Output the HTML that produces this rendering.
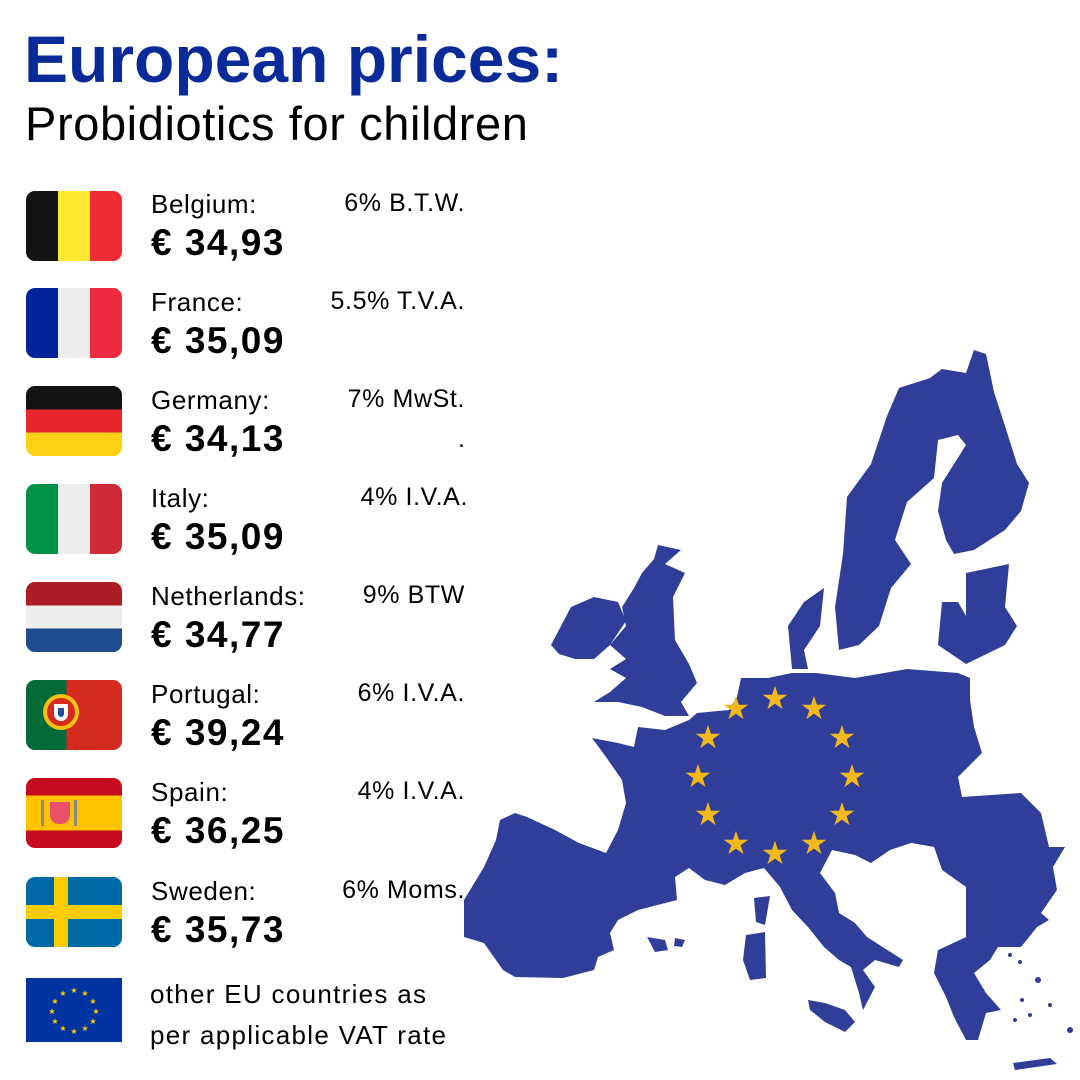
<!DOCTYPE html>
<html><head><style>
body{margin:0;width:1080px;height:1080px;background:#fff;position:relative;overflow:hidden;font-family:"Liberation Sans",Arial,sans-serif;color:#000}
.t{position:absolute;white-space:nowrap}
.flag{position:absolute;left:26px;width:96px;height:70px;border-radius:9px;overflow:hidden}
.n{font-size:26px;letter-spacing:0.6px}
.p{font-size:37px;font-weight:bold;letter-spacing:1.5px}
.v{font-size:25px;text-align:right;width:220px;left:245px;letter-spacing:0.6px}
</style></head><body>
<div class="t" style="left:24px;top:21px;font-size:66px;font-weight:bold;color:#0a2a9a;letter-spacing:0px">European prices:</div>
<div class="t" style="left:25px;top:96px;font-size:47px;letter-spacing:0.6px">Probidiotics for children</div>

<!-- Belgium -->
<div class="flag" style="top:191px;background:linear-gradient(90deg,#141414 33.3%,#fde930 33.3% 66.6%,#ef2b33 66.6%)"></div>
<div class="t n" style="left:151px;top:189px">Belgium:</div>
<div class="t p" style="left:151px;top:222px">€ 34,93</div>
<div class="t v" style="top:189px">6% B.T.W.</div>
<!-- France -->
<div class="flag" style="top:288px;background:linear-gradient(90deg,#00259a 33.3%,#eeeeee 33.3% 66.6%,#ee2a3d 66.6%)"></div>
<div class="t n" style="left:151px;top:287px">France:</div>
<div class="t p" style="left:151px;top:320px">€ 35,09</div>
<div class="t v" style="top:287px">5.5% T.V.A.</div>
<!-- Germany -->
<div class="flag" style="top:386px;background:linear-gradient(180deg,#141414 33.3%,#e8262b 33.3% 66.6%,#fcd116 66.6%)"></div>
<div class="t n" style="left:151px;top:385px">Germany:</div>
<div class="t p" style="left:151px;top:418px">€ 34,13</div>
<div class="t v" style="top:385px">7% MwSt.</div>
<div class="t" style="left:458px;top:425px;font-size:25px">.</div>
<!-- Italy -->
<div class="flag" style="top:484px;background:linear-gradient(90deg,#009246 33.3%,#eeeeee 33.3% 66.6%,#ce2b37 66.6%)"></div>
<div class="t n" style="left:151px;top:483px">Italy:</div>
<div class="t p" style="left:151px;top:516px">€ 35,09</div>
<div class="t v" style="top:483px;left:248px">4% I.V.A.</div>
<!-- Netherlands -->
<div class="flag" style="top:582px;background:linear-gradient(180deg,#ad1d25 33.3%,#eeeeee 33.3% 66.6%,#204b8e 66.6%)"></div>
<div class="t n" style="left:151px;top:581px">Netherlands:</div>
<div class="t p" style="left:151px;top:614px">€ 34,77</div>
<div class="t v" style="top:581px">9% BTW</div>
<!-- Portugal -->
<div class="flag" style="top:680px;background:linear-gradient(90deg,#046a38 42%,#d52b1e 42%)">
<div style="position:absolute;left:17px;top:14px;width:36px;height:36px;border:4px solid #f4c20d;border-radius:50%;box-sizing:border-box;background:#d52b1e"></div>
<div style="position:absolute;left:28px;top:24px;width:14px;height:17px;background:#fff;border-radius:0 0 7px 7px;box-shadow:inset 0 0 0 4px #fff,inset 0 0 0 10px #1e50a2"></div></div>
<div class="t n" style="left:151px;top:679px">Portugal:</div>
<div class="t p" style="left:151px;top:712px">€ 39,24</div>
<div class="t v" style="top:679px">6% I.V.A.</div>
<!-- Spain -->
<div class="flag" style="top:778px;background:linear-gradient(180deg,#c60b1e 25%,#ffc400 25% 75%,#c60b1e 75%)">
<div style="position:absolute;left:24px;top:24px;width:20px;height:22px;background:#e9506a;border-radius:0 0 9px 9px"></div>
<div style="position:absolute;left:15px;top:22px;width:3px;height:26px;background:#888"></div>
<div style="position:absolute;left:48px;top:22px;width:3px;height:26px;background:#888"></div></div>
<div class="t n" style="left:151px;top:777px">Spain:</div>
<div class="t p" style="left:151px;top:810px">€ 36,25</div>
<div class="t v" style="top:777px">4% I.V.A.</div>
<!-- Sweden -->
<div class="flag" style="top:877px;background:#006aa7">
<div style="position:absolute;left:28px;top:0;width:14px;height:70px;background:#fecc02"></div>
<div style="position:absolute;left:0;top:28px;width:96px;height:14px;background:#fecc02"></div></div>
<div class="t n" style="left:151px;top:876px">Sweden:</div>
<div class="t p" style="left:151px;top:909px">€ 35,73</div>
<div class="t v" style="top:876px">6% Moms.</div>
<!-- EU -->
<svg style="position:absolute;left:26px;top:978px" width="96" height="64">
<rect width="96" height="64" fill="#0033a0"/>
<g fill="#ffcc00" font-size="8" font-family="DejaVu Sans" text-anchor="middle">
<text x="48" y="15">★</text><text x="59" y="18">★</text><text x="67" y="26">★</text><text x="70" y="36">★</text><text x="67" y="46">★</text><text x="59" y="53">★</text><text x="48" y="56">★</text><text x="37" y="53">★</text><text x="29" y="46">★</text><text x="26" y="36">★</text><text x="29" y="26">★</text><text x="37" y="18">★</text></g></svg>
<div class="t" style="left:150px;top:974px;font-size:26px;line-height:41px;letter-spacing:1.3px">other EU countries as<br>per applicable VAT rate</div>

<svg style="position:absolute;left:0;top:0" width="1080" height="1080">
<g fill="#303d99">
<polygon points="592,738 618,743 634,747 638,727 665,730 689,720 697,713 729,710 737,697 741,678 768,678 792,673 816,673 855,678 907,669 958,673 970,678 970,700 974,727 982,753 958,777 962,797 1021,793 1041,813 1049,847 1065,847 1053,867 1057,890 1041,913 1049,920 1037,927 1021,947 998,947 990,960 974,973 986,993 1001,1010 986,1013 978,1040 966,1040 954,1017 946,997 934,973 938,950 966,937 966,887 942,870 934,847 911,843 890,850 871,863 855,855 832,850 820,873 835,893 839,913 855,923 867,937 903,960 899,967 875,960 863,970 875,987 863,1010 859,993 851,967 839,960 824,947 808,927 792,910 780,887 764,868 745,873 725,885 705,880 689,868 675,877 677,900 638,910 618,920 610,933 614,950 598,957 594,970 563,978 515,977 503,970 484,943 464,937 464,900 484,867 496,840 500,820 515,813 527,817 555,830 579,843 606,853 618,830 626,803 622,780 606,757"/>
<polygon points="911,843 934,847 942,870 966,887 966,937 938,950 903,913 880,880" fill="#fff"/>
<polygon points="658,545 681,550 665,564 685,573 673,597 675,640 689,664 697,683 681,702 689,716 665,716 642,707 618,702 594,702 610,692 626,678 610,669 626,659 610,645 626,626 622,607 634,588 642,573 654,559"/>
<polygon points="551,645 571,607 594,597 618,602 626,621 610,645 594,659 575,659 559,654"/>
<polygon points="974,350 986,354 994,392 1005,426 1017,464 1029,483 1021,511 1005,530 974,550 954,554 946,540 938,511 942,483 966,445 958,435 938,440 934,478 907,502 895,540 911,564 891,588 879,626 859,645 839,650 835,607 843,554 847,497 871,464 887,416 899,388 930,378 942,369 966,373"/>
<polygon points="966,573 1009,564 1005,607 1017,626 1005,645 966,664 938,645 942,602 958,602 966,616"/>
<polygon points="788,626 804,602 824,588 820,626 804,650 808,669 792,669"/>
<polygon points="808,1000 825,1003 845,1010 855,1022 845,1032 825,1022 810,1010"/>
<polygon points="746,935 765,932 766,978 750,980 743,960"/>
<polygon points="754,898 770,896 765,925 756,922"/>
<polygon points="647,937 665,940 668,950 655,952"/>
<polygon points="675,938 685,940 682,947 674,946"/>
<polygon points="1013,1063 1050,1058 1057,1064 1015,1070"/>
<circle cx="1010" cy="955" r="2"/><circle cx="1020" cy="962" r="2"/><circle cx="1038" cy="980" r="3"/><circle cx="1022" cy="1000" r="2"/><circle cx="1050" cy="1005" r="2"/><circle cx="1030" cy="1015" r="2"/><circle cx="1070" cy="1030" r="3"/><circle cx="1015" cy="1020" r="2"/>
</g>
<g fill="#f2b81c" font-size="32" font-family="DejaVu Sans" text-anchor="middle">
<text x="775" y="709">★</text><text x="814" y="719">★</text><text x="842" y="748">★</text><text x="852" y="787">★</text><text x="842" y="825">★</text><text x="814" y="854">★</text><text x="775" y="864">★</text><text x="736" y="854">★</text><text x="708" y="825">★</text><text x="698" y="787">★</text><text x="708" y="748">★</text><text x="736" y="719">★</text></g>
</svg>
</body></html>
